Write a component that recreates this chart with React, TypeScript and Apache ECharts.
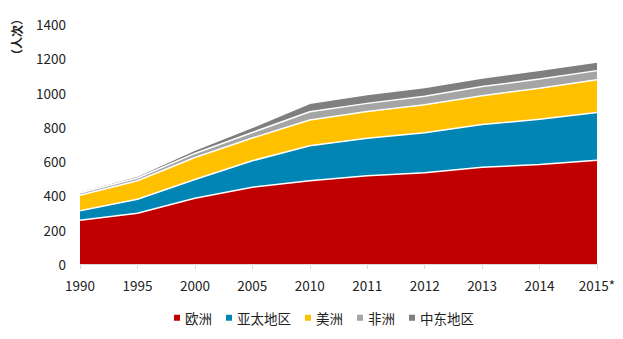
import React, { useEffect, useRef } from "react";
import * as echarts from "echarts";

const categories = ["1990", "1995", "2000", "2005", "2010", "2011", "2012", "2013", "2014", "2015*"];
const europe = [255, 296, 383, 448, 485, 515, 532, 565, 580, 605];
const asiaPacific = [56, 82, 110, 154, 205, 218, 234, 249, 264, 279];
const americas = [90, 108, 128, 133, 150, 156, 163, 168, 181, 191];
const africa = [13, 16, 24, 32, 48, 48, 50, 53, 54, 53];
const middleEast = [8, 11, 20, 30, 50, 52, 51, 50, 51, 50];
const seriesNames = ["欧洲", "亚太地区", "美洲", "非洲", "中东地区"];
const colors = ["#C00000", "#0085B5", "#FFC000", "#A5A5A5", "#7F7F7F"];

export default function App() {
  const ref = useRef<HTMLDivElement>(null);
  useEffect(() => {
    if (!ref.current) return;
    const chart = echarts.init(ref.current, null, { renderer: "svg" });
    const data = [europe, asiaPacific, americas, africa, middleEast];
    const font = "'Noto Sans CJK SC', 'Noto Sans', sans-serif";
    chart.setOption({
      animation: false,
      color: colors,
      textStyle: { fontFamily: font },
      grid: { left: 80, right: 26, top: 24, bottom: 75 },
      legend: {
        top: 306,
        left: 169,
        icon: "rect",
        itemWidth: 6,
        itemHeight: 6,
        itemGap: 14,
        textStyle: { fontSize: 13.5, color: "#222", fontFamily: font },
        data: seriesNames,
      },
      xAxis: {
        type: "category",
        boundaryGap: false,
        data: categories,
        axisLine: { lineStyle: { color: "#D9D9D9", width: 1 } },
        axisTick: { show: true, alignWithLabel: true, length: 5, lineStyle: { color: "#D9D9D9" } },
        axisLabel: { color: "#222", fontSize: 13.5, margin: 14, fontFamily: font },
        splitLine: { show: false },
      },
      yAxis: {
        type: "value",
        min: 0,
        max: 1400,
        interval: 200,
        axisLine: { show: false },
        axisTick: { show: false },
        splitLine: { show: false },
        axisLabel: { color: "#222", fontSize: 13.5, margin: 14, fontFamily: font, formatter: (v: number) => String(v) },
      },
      graphic: [
        {
          type: "text",
          x: 16,
          y: 37,
          rotation: Math.PI / 2,
          style: {
            text: "（人次）",
            fontSize: 12,
            fontWeight: "bold",
            fill: "#222",
            fontFamily: font,
            align: "center",
            verticalAlign: "middle",
          },
        },
      ],
      series: data.map((d, i) => ({
        name: seriesNames[i],
        type: "line",
        stack: "total",
        data: d,
        symbol: "none",
        itemStyle: { color: colors[i] },
        lineStyle: { color: "#FFFFFF", width: 1.5 },
        areaStyle: { color: colors[i], opacity: 1 },
      })),
    });
    return () => chart.dispose();
  }, []);
  return <div ref={ref} style={{ width: 623, height: 339, position: "absolute", left: 0, top: 0 }} />;
}
